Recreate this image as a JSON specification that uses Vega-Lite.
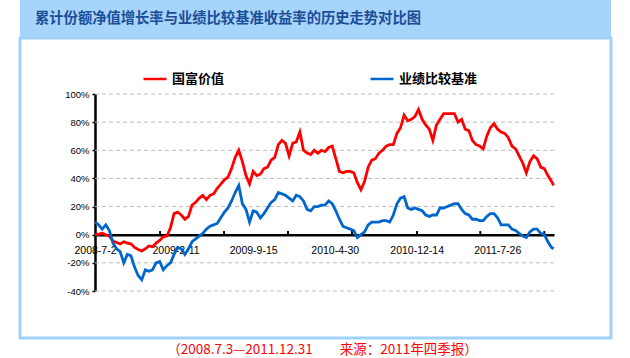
{
  "$schema": "https://vega.github.io/schema/vega-lite/v6.json",
  "background": "white",
  "padding": {"left": 18, "top": 0, "right": 21, "bottom": 0},
  "spacing": 0,
  "bounds": "flush",
  "title": {
    "text": "（2008.7.3—2011.12.31　　来源：2011年四季报）",
    "orient": "bottom",
    "anchor": "middle",
    "dx": 7,
    "offset": 3,
    "color": "#FF0000",
    "font": "Noto Sans CJK SC",
    "fontSize": 13.5,
    "fontWeight": "normal"
  },
  "config": {
    "view": {"stroke": null},
    "axis": {"grid": false}
  },
  "vconcat": [
    {
      "width": 591,
      "height": 38,
      "view": {"fill": "#A6D4FA", "stroke": null},
      "title": {
        "text": "累计份额净值增长率与业绩比较基准收益率的历史走势对比图",
        "anchor": "start",
        "frame": "group",
        "orient": "bottom",
        "offset": -19,
        "baseline": "middle",
        "dx": 15,
        "color": "#1B4E98",
        "font": "Noto Sans CJK SC",
        "fontSize": 14.3,
        "fontWeight": "bold"
      },
      "data": {"values": []},
      "mark": "rect",
      "encoding": {}
    },
    {
      "width": 591,
      "height": 300,
      "view": {"fill": "white", "stroke": "#A0D1F8", "strokeWidth": 3},
      "layer": [
        {
          "data": {"values": [{"g": -40}, {"g": -20}, {"g": 20}, {"g": 40}, {"g": 60}, {"g": 80}, {"g": 100}]},
          "mark": {"type": "rule", "color": "#BDBDBD", "strokeWidth": 1, "strokeDash": [4, 3]},
          "encoding": {
            "y": {"field": "g", "type": "quantitative",
                  "scale": {"domain": [-40, 100], "range": [253, 56], "nice": false, "zero": false},
                  "axis": {"values": [-40, -20, 0, 20, 40, 60, 80, 100],
                    "labelExpr": "datum.value + '%'", "title": null, "orient": "left",
                    "offset": -75, "domain": true, "domainColor": "black", "domainWidth": 2.5,
                    "ticks": true, "tickSize": 3, "tickColor": "black", "tickWidth": 1.5,
                    "labelPadding": 3, "labelFont": "Liberation Sans", "labelFontSize": 9.5,
                    "labelColor": "black", "grid": false}},
            "x": {"datum": {"year": 2008, "month": 7, "date": 2, "utc": true}, "type": "temporal",
                  "scale": {"type": "utc", "domain": [{"year": 2008, "month": 7, "date": 2, "utc": true}, {"year": 2011, "month": 12, "date": 31, "utc": true}], "range": [75, 534], "nice": false},
                  "axis": {"values": [
                      {"year": 2008, "month": 7, "date": 2, "utc": true},
                      {"year": 2009, "month": 2, "date": 11, "utc": true},
                      {"year": 2009, "month": 9, "date": 15, "utc": true},
                      {"year": 2010, "month": 4, "date": 30, "utc": true},
                      {"year": 2010, "month": 12, "date": 14, "utc": true},
                      {"year": 2011, "month": 7, "date": 26, "utc": true}],
                    "labelExpr": "utcFormat(datum.value, '%Y-%-m-%-d')",
                    "title": null, "orient": "bottom", "offset": -103.3,
                    "domain": true, "domainColor": "black", "domainWidth": 2.5,
                    "ticks": false, "labelPadding": 10.5, "labelFont": "Liberation Sans",
                    "labelFontSize": 10.5, "labelColor": "black", "labelOverlap": false,
                    "labelFlush": false, "grid": false}},
            "x2": {"datum": {"year": 2011, "month": 12, "date": 31, "utc": true}}
          }
        },
        {
          "data": {"values": [{"t": "2008-12-30"}, {"t": "2009-06-26"}, {"t": "2009-12-21"}, {"t": "2010-06-17"}, {"t": "2010-12-15"}, {"t": "2011-06-09"}, {"t": "2011-12-04"}]},
          "mark": {"type": "rule", "color": "black", "strokeWidth": 2},
          "encoding": {
            "x": {"field": "t", "type": "temporal",
                  "axis": {"values": [
                      {"year": 2008, "month": 7, "date": 2, "utc": true},
                      {"year": 2009, "month": 2, "date": 11, "utc": true},
                      {"year": 2009, "month": 9, "date": 15, "utc": true},
                      {"year": 2010, "month": 4, "date": 30, "utc": true},
                      {"year": 2010, "month": 12, "date": 14, "utc": true},
                      {"year": 2011, "month": 7, "date": 26, "utc": true}],
                    "labelExpr": "utcFormat(datum.value, '%Y-%-m-%-d')",
                    "title": null, "orient": "bottom", "offset": -103.3,
                    "domain": true, "domainColor": "black", "domainWidth": 2.5,
                    "ticks": false, "labelPadding": 10.5, "labelFont": "Liberation Sans",
                    "labelFontSize": 10.5, "labelColor": "black", "labelOverlap": false,
                    "labelFlush": false, "grid": false}},
            "y": {"datum": 0, "type": "quantitative",
                  "axis": {"values": [-40, -20, 0, 20, 40, 60, 80, 100],
                    "labelExpr": "datum.value + '%'", "title": null, "orient": "left",
                    "offset": -75, "domain": true, "domainColor": "black", "domainWidth": 2.5,
                    "ticks": true, "tickSize": 3, "tickColor": "black", "tickWidth": 1.5,
                    "labelPadding": 3, "labelFont": "Liberation Sans", "labelFontSize": 9.5,
                    "labelColor": "black", "grid": false}},
            "y2": {"datum": 2.6}
          }
        },
        {
          "data": {"values": [
            {"d": "2008-07-02", "国富价值": 0, "业绩比较基准": 9},
            {"d": "2008-07-12", "国富价值": 0.5, "业绩比较基准": 7},
            {"d": "2008-07-22", "国富价值": 1, "业绩比较基准": 4},
            {"d": "2008-08-01", "国富价值": 0, "业绩比较基准": 7},
            {"d": "2008-08-11", "国富价值": -1, "业绩比较基准": 3},
            {"d": "2008-08-21", "国富价值": -4.5, "业绩比较基准": -6},
            {"d": "2008-08-31", "国富价值": -5.5, "业绩比较基准": -10},
            {"d": "2008-09-10", "国富价值": -6.5, "业绩比较基准": -12},
            {"d": "2008-09-20", "国富价值": -5, "业绩比较基准": -20},
            {"d": "2008-09-30", "国富价值": -6, "业绩比较基准": -14},
            {"d": "2008-10-10", "国富价值": -6.5, "业绩比较基准": -15},
            {"d": "2008-10-20", "国富价值": -9, "业绩比较基准": -23},
            {"d": "2008-10-30", "国富价值": -10.5, "业绩比较基准": -29},
            {"d": "2008-11-09", "国富价值": -11.5, "业绩比较基准": -32},
            {"d": "2008-11-19", "国富价值": -10, "业绩比较基准": -25},
            {"d": "2008-11-29", "国富价值": -8, "业绩比较基准": -26},
            {"d": "2008-12-09", "国富价值": -8.5, "业绩比较基准": -25},
            {"d": "2008-12-19", "国富价值": -6, "业绩比较基准": -20},
            {"d": "2008-12-29", "国富价值": -4, "业绩比较基准": -19},
            {"d": "2009-01-08", "国富价值": -1.5, "业绩比较基准": -25},
            {"d": "2009-01-18", "国富价值": -1, "业绩比较基准": -22},
            {"d": "2009-01-28", "国富价值": 5, "业绩比较基准": -20},
            {"d": "2009-02-07", "国富价值": 15, "业绩比较基准": -14},
            {"d": "2009-02-17", "国富价值": 16, "业绩比较基准": -9},
            {"d": "2009-02-27", "国富价值": 14, "业绩比较基准": -10},
            {"d": "2009-03-09", "国富价值": 11, "业绩比较基准": -14},
            {"d": "2009-03-19", "国富价值": 13, "业绩比较基准": -10},
            {"d": "2009-03-29", "国富价值": 21, "业绩比较基准": -5},
            {"d": "2009-04-08", "国富价值": 23, "业绩比较基准": -3},
            {"d": "2009-04-18", "国富价值": 26, "业绩比较基准": -1},
            {"d": "2009-04-28", "国富价值": 28, "业绩比较基准": 1},
            {"d": "2009-05-08", "国富价值": 25, "业绩比较基准": 4},
            {"d": "2009-05-18", "国富价值": 28, "业绩比较基准": 6},
            {"d": "2009-05-28", "国富价值": 29, "业绩比较基准": 7},
            {"d": "2009-06-07", "国富价值": 33, "业绩比较基准": 8},
            {"d": "2009-06-17", "国富价值": 36, "业绩比较基准": 12},
            {"d": "2009-06-27", "国富价值": 39, "业绩比较基准": 16},
            {"d": "2009-07-07", "国富价值": 41, "业绩比较基准": 19},
            {"d": "2009-07-17", "国富价值": 47, "业绩比较基准": 24},
            {"d": "2009-07-27", "国富价值": 55, "业绩比较基准": 30},
            {"d": "2009-08-06", "国富价值": 60, "业绩比较基准": 35},
            {"d": "2009-08-16", "国富价值": 52, "业绩比较基准": 22},
            {"d": "2009-08-26", "国富价值": 42, "业绩比较基准": 18},
            {"d": "2009-09-05", "国富价值": 36, "业绩比较基准": 9},
            {"d": "2009-09-15", "国富价值": 45, "业绩比较基准": 17},
            {"d": "2009-09-25", "国富价值": 42, "业绩比较基准": 16},
            {"d": "2009-10-05", "国富价值": 43, "业绩比较基准": 12},
            {"d": "2009-10-15", "国富价值": 47, "业绩比较基准": 15},
            {"d": "2009-10-25", "国富价值": 48, "业绩比较基准": 19},
            {"d": "2009-11-04", "国富价值": 53, "业绩比较基准": 23},
            {"d": "2009-11-14", "国富价值": 55, "业绩比较基准": 25},
            {"d": "2009-11-24", "国富价值": 64, "业绩比较基准": 30},
            {"d": "2009-12-04", "国富价值": 67, "业绩比较基准": 29},
            {"d": "2009-12-14", "国富价值": 65, "业绩比较基准": 28},
            {"d": "2009-12-24", "国富价值": 56, "业绩比较基准": 26},
            {"d": "2010-01-03", "国富价值": 65, "业绩比较基准": 24},
            {"d": "2010-01-13", "国富价值": 66, "业绩比较基准": 28},
            {"d": "2010-01-23", "国富价值": 73, "业绩比较基准": 27},
            {"d": "2010-02-02", "国富价值": 60, "业绩比较基准": 24},
            {"d": "2010-02-12", "国富价值": 58, "业绩比较基准": 18},
            {"d": "2010-02-22", "国富价值": 57, "业绩比较基准": 17},
            {"d": "2010-03-04", "国富价值": 60, "业绩比较基准": 20},
            {"d": "2010-03-14", "国富价值": 58, "业绩比较基准": 20},
            {"d": "2010-03-24", "国富价值": 60, "业绩比较基准": 21},
            {"d": "2010-04-03", "国富价值": 59, "业绩比较基准": 21},
            {"d": "2010-04-13", "国富价值": 62, "业绩比较基准": 24},
            {"d": "2010-04-23", "国富价值": 63, "业绩比较基准": 22},
            {"d": "2010-05-03", "国富价值": 54, "业绩比较基准": 17},
            {"d": "2010-05-13", "国富价值": 45, "业绩比较基准": 11},
            {"d": "2010-05-23", "国富价值": 44, "业绩比较基准": 6},
            {"d": "2010-06-02", "国富价值": 45, "业绩比较基准": 5},
            {"d": "2010-06-12", "国富价值": 45, "业绩比较基准": 4},
            {"d": "2010-06-22", "国富价值": 44, "业绩比较基准": 3},
            {"d": "2010-07-02", "国富价值": 37, "业绩比较基准": -2},
            {"d": "2010-07-12", "国富价值": 32, "业绩比较基准": 0},
            {"d": "2010-07-22", "国富价值": 38, "业绩比较基准": 2},
            {"d": "2010-08-01", "国富价值": 48, "业绩比较基准": 7},
            {"d": "2010-08-11", "国富价值": 53, "业绩比较基准": 9},
            {"d": "2010-08-21", "国富价值": 54, "业绩比较基准": 9},
            {"d": "2010-08-31", "国富价值": 58, "业绩比较基准": 9},
            {"d": "2010-09-10", "国富价值": 60, "业绩比较基准": 10},
            {"d": "2010-09-20", "国富价值": 63, "业绩比较基准": 10},
            {"d": "2010-09-30", "国富价值": 64, "业绩比较基准": 9},
            {"d": "2010-10-10", "国富价值": 64, "业绩比较基准": 14},
            {"d": "2010-10-20", "国富价值": 72, "业绩比较基准": 22},
            {"d": "2010-10-30", "国富价值": 76, "业绩比较基准": 26},
            {"d": "2010-11-09", "国富价值": 85, "业绩比较基准": 27},
            {"d": "2010-11-19", "国富价值": 81, "业绩比较基准": 19},
            {"d": "2010-11-29", "国富价值": 82, "业绩比较基准": 18},
            {"d": "2010-12-09", "国富价值": 84, "业绩比较基准": 19},
            {"d": "2010-12-19", "国富价值": 89, "业绩比较基准": 18},
            {"d": "2010-12-29", "国富价值": 82, "业绩比较基准": 17},
            {"d": "2011-01-08", "国富价值": 78, "业绩比较基准": 14},
            {"d": "2011-01-18", "国富价值": 75, "业绩比较基准": 13},
            {"d": "2011-01-28", "国富价值": 67, "业绩比较基准": 14},
            {"d": "2011-02-07", "国富价值": 78, "业绩比较基准": 14},
            {"d": "2011-02-17", "国富价值": 82, "业绩比较基准": 19},
            {"d": "2011-02-27", "国富价值": 86, "业绩比较基准": 19},
            {"d": "2011-03-09", "国富价值": 86, "业绩比较基准": 20},
            {"d": "2011-03-19", "国富价值": 86, "业绩比较基准": 21},
            {"d": "2011-03-29", "国富价值": 86, "业绩比较基准": 22},
            {"d": "2011-04-08", "国富价值": 80, "业绩比较基准": 22},
            {"d": "2011-04-18", "国富价值": 82, "业绩比较基准": 18},
            {"d": "2011-04-28", "国富价值": 75, "业绩比较基准": 15},
            {"d": "2011-05-08", "国富价值": 74, "业绩比较基准": 14},
            {"d": "2011-05-18", "国富价值": 67, "业绩比较基准": 11},
            {"d": "2011-05-28", "国富价值": 64, "业绩比较基准": 11},
            {"d": "2011-06-07", "国富价值": 63, "业绩比较基准": 10},
            {"d": "2011-06-17", "国富价值": 61, "业绩比较基准": 10},
            {"d": "2011-06-27", "国富价值": 70, "业绩比较基准": 13},
            {"d": "2011-07-07", "国富价值": 76, "业绩比较基准": 15},
            {"d": "2011-07-17", "国富价值": 79, "业绩比较基准": 15},
            {"d": "2011-07-27", "国富价值": 75, "业绩比较基准": 12},
            {"d": "2011-08-06", "国富价值": 73, "业绩比较基准": 7},
            {"d": "2011-08-16", "国富价值": 72, "业绩比较基准": 7},
            {"d": "2011-08-26", "国富价值": 69, "业绩比较基准": 7},
            {"d": "2011-09-05", "国富价值": 63, "业绩比较基准": 4},
            {"d": "2011-09-15", "国富价值": 61, "业绩比较基准": 3},
            {"d": "2011-09-25", "国富价值": 56, "业绩比较基准": 1},
            {"d": "2011-10-05", "国富价值": 51, "业绩比较基准": -1},
            {"d": "2011-10-15", "国富价值": 44, "业绩比较基准": -2},
            {"d": "2011-10-25", "国富价值": 52, "业绩比较基准": 2},
            {"d": "2011-11-04", "国富价值": 56, "业绩比较基准": 4},
            {"d": "2011-11-14", "国富价值": 54, "业绩比较基准": 4},
            {"d": "2011-11-24", "国富价值": 48, "业绩比较基准": 1},
            {"d": "2011-12-04", "国富价值": 47, "业绩比较基准": 0},
            {"d": "2011-12-14", "国富价值": 42, "业绩比较基准": -5},
            {"d": "2011-12-24", "国富价值": 38, "业绩比较基准": -9},
            {"d": "2011-12-30", "国富价值": 35, "业绩比较基准": -10}
          ]},
          "transform": [{"fold": ["国富价值", "业绩比较基准"], "as": ["series", "value"]}],
          "mark": {"type": "line", "strokeWidth": 2.8},
          "encoding": {
            "x": {"field": "d", "type": "temporal",
                  "axis": {"values": [
                      {"year": 2008, "month": 7, "date": 2, "utc": true},
                      {"year": 2009, "month": 2, "date": 11, "utc": true},
                      {"year": 2009, "month": 9, "date": 15, "utc": true},
                      {"year": 2010, "month": 4, "date": 30, "utc": true},
                      {"year": 2010, "month": 12, "date": 14, "utc": true},
                      {"year": 2011, "month": 7, "date": 26, "utc": true}],
                    "labelExpr": "utcFormat(datum.value, '%Y-%-m-%-d')",
                    "title": null, "orient": "bottom", "offset": -103.3,
                    "domain": true, "domainColor": "black", "domainWidth": 2.5,
                    "ticks": false, "labelPadding": 10.5, "labelFont": "Liberation Sans",
                    "labelFontSize": 10.5, "labelColor": "black", "labelOverlap": false,
                    "labelFlush": false, "grid": false}},
            "y": {"field": "value", "type": "quantitative",
                  "axis": {"values": [-40, -20, 0, 20, 40, 60, 80, 100],
                    "labelExpr": "datum.value + '%'", "title": null, "orient": "left",
                    "offset": -75, "domain": true, "domainColor": "black", "domainWidth": 2.5,
                    "ticks": true, "tickSize": 3, "tickColor": "black", "tickWidth": 1.5,
                    "labelPadding": 3, "labelFont": "Liberation Sans", "labelFontSize": 9.5,
                    "labelColor": "black", "grid": false}},
            "color": {"field": "series", "type": "nominal",
                      "scale": {"domain": ["国富价值", "业绩比较基准"], "range": ["#FF0000", "#0066CC"]},
                      "legend": {"title": null, "orient": "none", "legendX": 122, "legendY": 66,
                        "direction": "horizontal", "columns": 2, "columnPadding": 140,
                        "symbolType": "stroke", "symbolSize": 529, "symbolStrokeWidth": 2.5,
                        "labelFont": "Noto Sans CJK SC", "labelFontSize": 13, "labelFontWeight": "bold",
                        "labelColor": "black", "labelOffset": 4}}
          }
        }
      ]
    }
  ]
}
